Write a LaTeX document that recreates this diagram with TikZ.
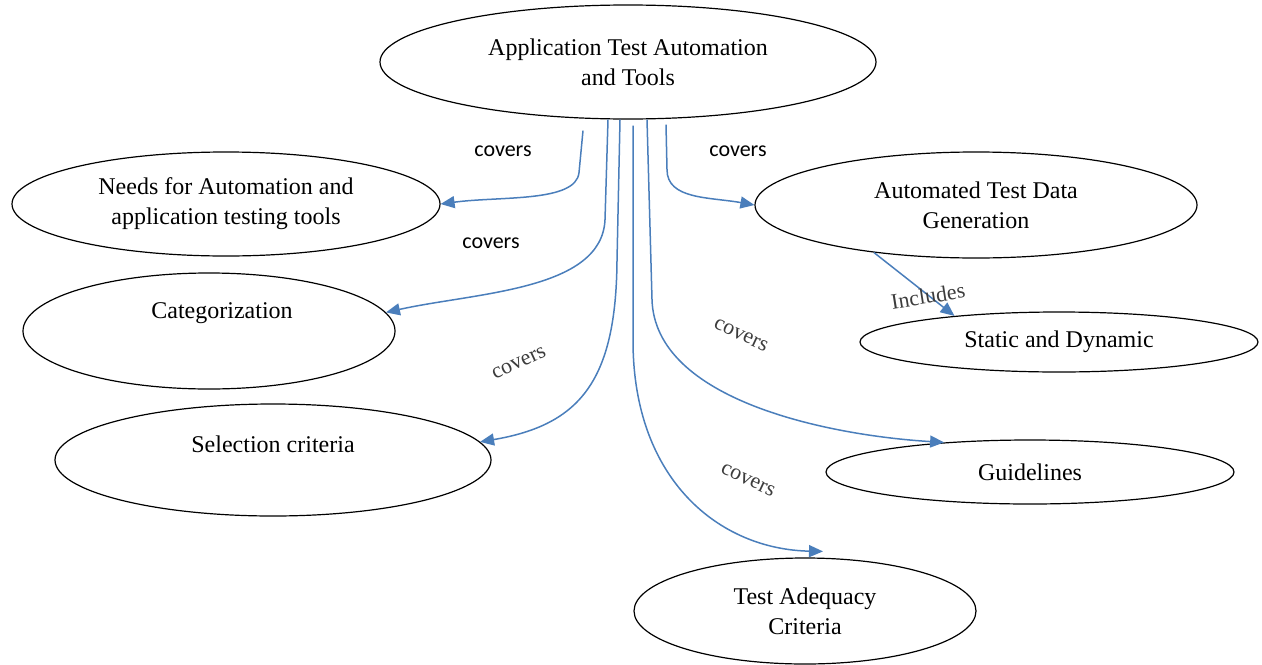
\documentclass[tikz,border=0pt]{standalone}
\usepackage{fontspec}
\setmainfont{Liberation Serif}
\newfontfamily\coversfont{Carlito}
\usetikzlibrary{arrows.meta,shapes.geometric}
\definecolor{linkblue}{RGB}{74,126,187}
\definecolor{notegray}{RGB}{60,60,60}
\begin{document}
\begin{tikzpicture}[x=0.5pt,y=-0.5pt,
  oval/.style={ellipse,draw=black,line width=0.6pt,inner sep=0pt,align=center,
    font=\fontsize{12}{15}\selectfont},
  ovaltext/.style={font=\fontsize{12}{15}\selectfont,inner sep=0pt},
  conn/.style={draw=linkblue,line width=0.75pt,-{Triangle[length=7pt,width=6pt]}},
  cov/.style={font=\coversfont\fontsize{11}{13}\selectfont,text=black},
  rot/.style={font=\fontsize{11}{13}\selectfont,text=notegray}
]
\useasboundingbox (0,0) rectangle (1262,664);

% topic ellipses
\node[oval,minimum width=248pt,minimum height=57pt] (top) at (628,62)
  {Application Test Automation\\and Tools};
\node[oval,minimum width=214pt,minimum height=52pt] (needs) at (226,204)
  {Needs for Automation and\\application testing tools};
\node[oval,minimum width=221pt,minimum height=53pt] (auto) at (976,205)
  {Automated Test Data\\Generation};
\node[oval,minimum width=186pt,minimum height=58pt,
  label={[ovaltext,xshift=6.5pt,yshift=9pt]center:Categorization}] (cat) at (209,331) {};
\node[oval,minimum width=199pt,minimum height=30pt] (stat) at (1059,342)
  {Static and Dynamic};
\node[oval,minimum width=218pt,minimum height=56pt,
  label={[ovaltext,yshift=8pt]center:Selection criteria}] (sel) at (273,460) {};
\node[oval,minimum width=204pt,minimum height=32pt] (guide) at (1030,472)
  {Guidelines};
\node[oval,minimum width=171pt,minimum height=53pt] (adeq) at (805,611)
  {Test Adequacy\\Criteria};

% connectors
\draw[conn] ([shift={(-45,11)}]top.south) -- ++(-4,42)
  .. controls +(-3,30) and +(60,-8) .. (needs.east);
\draw[conn] ([shift={(-20,0)}]top.south) -- ++(-3,100)
  .. controls +(-3,71) and +(90,-20) .. (cat.6);
\draw[conn] ([shift={(-8,0)}]top.south) -- ++(-3,141)
  .. controls +(-1,120) and +(100,-17) .. (sel.5);
\draw[conn] ([shift={(5,6)}]top.south) -- ++(0,215)
  .. controls +(0,140) and +(-103,-2) .. ([shift={(18,-6)}]adeq.north);
\draw[conn] ([shift={(19,0)}]top.south) -- ++(5,180)
  .. controls +(3,101) and +(-115,-7) .. (guide.161);
\draw[conn] ([shift={(38,5)}]top.south) -- ++(1,45)
  .. controls +(0,30) and +(-45,-8) .. (auto.west);
\draw[conn] (auto.205) -- (stat.166);

% connector labels
\node[cov] (c1) at (503,151) {covers};
\node[cov] (c2) at (738,151) {covers};
\node[cov] (c3) at (491,243) {covers};
\node[rot,rotate=25] (c4) at (519,363) {covers};
\node[rot,rotate=-25] (c5) at (741,335) {covers};
\node[rot,rotate=-25] (c6) at (748,480) {covers};
\node[rot,rotate=9] (inc) at (928,296) {Includes};
\end{tikzpicture}
\end{document}
